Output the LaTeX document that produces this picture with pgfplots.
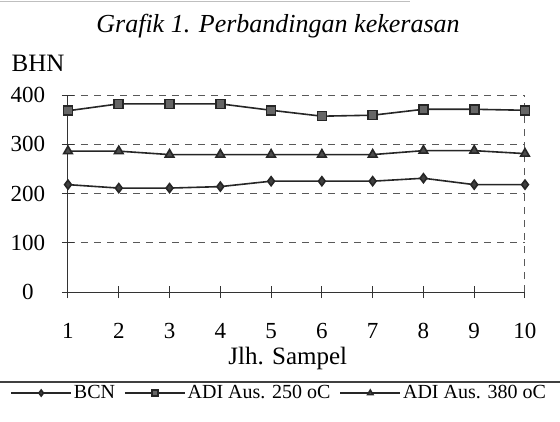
\documentclass[border=0pt]{standalone}
\usepackage{pgfplots}
\pgfplotsset{compat=1.18}
\usepackage{fontspec}
\setmainfont{Liberation Serif}
\begin{document}
\begin{tikzpicture}[x=1pt,y=1pt]
\useasboundingbox (0,0) rectangle (560,421);
\fill[white] (0,0) rectangle (560,421);
\draw[gray!50, line width=1.2pt] (0,419.5) -- (410,419.5);
\node[font=\fontsize{26}{30}\selectfont\itshape] at (278,395) {Grafik 1. Perbandingan kekerasan};
\node[font=\fontsize{25}{30}\selectfont] at (38,358) {BHN};
\begin{axis}[
  at={(68pt,129pt)}, anchor=south west,
  scale only axis, width=457pt, height=197pt,
  xmin=1, xmax=10, ymin=0, ymax=400,
  xtick={1,...,10}, ytick={0,100,200,300,400},
  axis x line*=bottom, axis y line*=left,
  axis line style={-, line width=1pt, black!80},
  ymajorgrids, grid style={line width=1pt, black!65, dash pattern=on 7pt off 6pt},
  tick align=center, major tick length=12pt,
  tick style={line width=1pt, black!80},
  /pgf/number format/assume math mode=true,
  xticklabel style={font=\fontsize{23}{26}\selectfont, anchor=center, yshift=-33pt},
  yticklabel style={font=\fontsize{23}{26}\selectfont, anchor=center, xshift=-34pt},
  xlabel={Jlh. Sampel},
  xlabel style={font=\fontsize{25}{30}\selectfont, at={(axis description cs:0.481,-0.34)}, anchor=center},
  legend columns=3,
  legend style={draw=none, fill=none, font=\fontsize{20}{23}\selectfont,
    at={(axis description cs:0.462,-0.513)}, anchor=center,
    /tikz/every even column/.append style={column sep=7pt}},
  legend image code/.code={\draw[mark repeat=2,mark phase=2,#1,mark size=3pt] plot coordinates {(0pt,0pt) (30pt,0pt) (60pt,0pt)};},
]
\draw[line width=1pt, black!65, dash pattern=on 7pt off 6pt] (axis cs:10,0) -- (axis cs:10,400);
\addplot[black!85, line width=1.6pt, mark=diamond*, mark size=4.5pt, mark options={solid, fill=black!75}]
  coordinates {(1,218) (2,211) (3,211) (4,214) (5,225) (6,225) (7,225) (8,231) (9,218) (10,218)};
\addplot[black!85, line width=1.6pt, mark=square*, mark size=4.5pt, mark options={solid, fill=black!60}]
  coordinates {(1,368) (2,382) (3,382) (4,382) (5,369) (6,357) (7,359) (8,371) (9,371) (10,369)};
\addplot[black!85, line width=1.6pt, mark=triangle*, mark size=5pt, mark options={solid, fill=black!70}]
  coordinates {(1,286) (2,286) (3,279) (4,279) (5,279) (6,279) (7,279) (8,287) (9,287) (10,281)};
\legend{BCN, ADI Aus. 250 oC, ADI Aus. 380 oC}
\end{axis}
\draw[black!75, line width=1.2pt] (0,39) -- (560,39);
\end{tikzpicture}
\end{document}
